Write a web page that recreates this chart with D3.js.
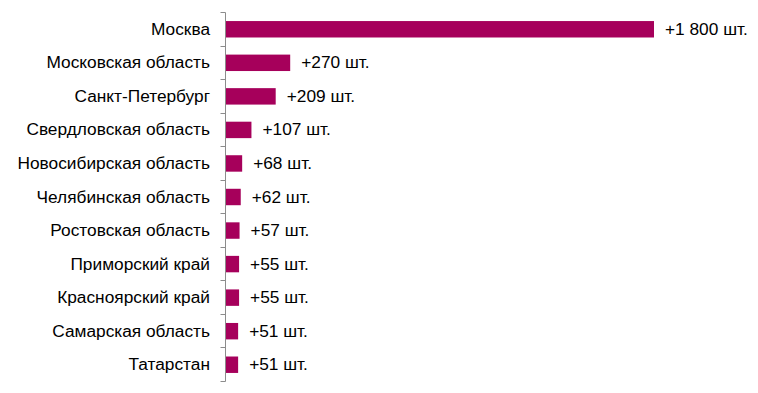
<!DOCTYPE html>
<html><head><meta charset="utf-8">
<script src="https://cdn.jsdelivr.net/npm/d3@7"></script>
<style>body{margin:0;background:#fff}svg{display:block}</style>
</head><body>
<svg id="c" width="758" height="393"></svg>
<script>
const categories = ["Москва","Московская область","Санкт-Петербург","Свердловская область","Новосибирская область","Челябинская область","Ростовская область","Приморский край","Красноярский край","Самарская область","Татарстан"];
const values = [1800,270,209,107,68,62,57,55,55,51,51];
const valueLabels = ["+1 800 шт.","+270 шт.","+209 шт.","+107 шт.","+68 шт.","+62 шт.","+57 шт.","+55 шт.","+55 шт.","+51 шт.","+51 шт."];

(function(){
const svg = d3.select("#c");
const x0 = 225.5, yTop = 12.5, yBottom = 381.5;
const x = d3.scaleLinear().domain([0,1800]).range([x0+0.5, 654]);
const y = d3.scaleBand().domain(categories).range([yTop,yBottom]).paddingInner(0.51).paddingOuter(0.255);
const font = "'Liberation Sans', Arial, sans-serif";

svg.selectAll("rect.bar").data(values).join("rect")
  .attr("x", x(0)).attr("y",(d,i)=>y(categories[i]))
  .attr("width", d=>x(d)-x(0)).attr("height", y.bandwidth())
  .attr("fill","#A6005B");

const step = y.step();
const g = svg.append("g").attr("stroke","#8c8c8c").attr("stroke-width",1);
g.append("line").attr("x1",x0).attr("x2",x0).attr("y1",yTop).attr("y2",yBottom);
d3.range(categories.length+1).forEach(i=>{
  const yy = Math.round(yTop + i*step - 0.5)+0.5;
  g.append("line").attr("x1",x0-5).attr("x2",x0).attr("y1",yy).attr("y2",yy);
});

svg.selectAll("text.cat").data(categories).join("text")
  .attr("x",210).attr("y",d=>y(d)+y.bandwidth()/2-0.5).attr("dy","0.35em")
  .attr("text-anchor","end").attr("font-family",font).attr("font-size","17.3px").attr("fill","#000")
  .text(d=>d);

svg.selectAll("text.val").data(values).join("text")
  .attr("x",d=>x(d)+11).attr("y",(d,i)=>y(categories[i])+y.bandwidth()/2-0.5).attr("dy","0.35em")
  .attr("font-family",font).attr("font-size","17.3px").attr("fill","#000")
  .text((d,i)=>valueLabels[i]);
})();
</script>
</body></html>
